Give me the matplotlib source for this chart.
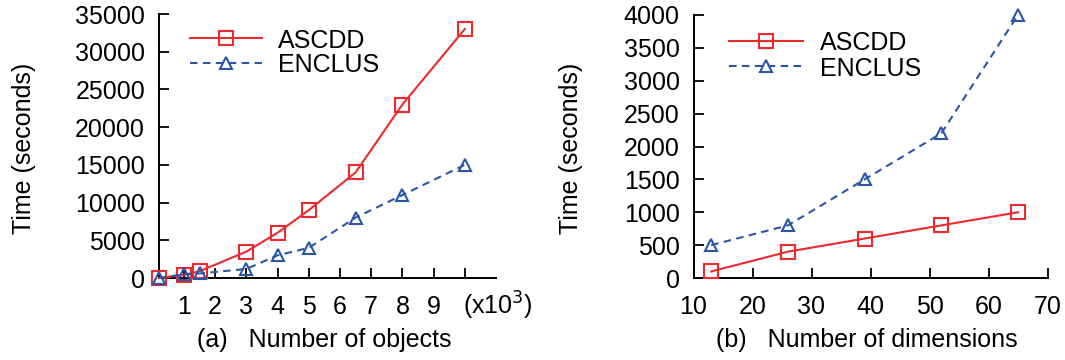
import matplotlib
matplotlib.use("Agg")
import matplotlib.pyplot as plt
from matplotlib.lines import Line2D

plt.rcParams['font.family'] = ['Liberation Sans', 'DejaVu Sans']

# (a) runtime vs. number of objects (x in thousands)
objects_k = [0.2, 1, 1.5, 3, 4, 5, 6.5, 8, 10]
ascdd_objects = [0, 400, 900, 3500, 6000, 9000, 14000, 23000, 33000]
enclus_objects = [0, 500, 600, 1200, 3000, 4000, 8000, 11000, 15000]
objects_ticks = [1, 2, 3, 4, 5, 6, 7, 8, 9, 10]
objects_ticklabels = ['1', '2', '3', '4', '5', '6', '7', '8', '9', '']

# (b) runtime vs. number of dimensions
dimensions = [13, 26, 39, 52, 65]
ascdd_dims = [100, 400, 600, 800, 1000]
enclus_dims = [500, 800, 1500, 2200, 4000]

series_names = ['ASCDD', 'ENCLUS']

RED = '#ec2a2e'
BLUE = '#2b56a8'
FS = 18
W, H = 1065, 360

fig = plt.figure(figsize=(W / 100, H / 100), dpi=100)


def fx(x):
    return x / W


def fy(y):
    return 1 - y / H


ax1 = fig.add_axes([fx(159), fy(278), 337 / W, 264 / H])
ax2 = fig.add_axes([fx(693.5), fy(278), 354 / W, 263 / H])

STYLES = [
    dict(color=RED, lw=1.5, marker='s', ms=9.5, mfc='none', mec=RED, mew=1.5),
    dict(color=BLUE, lw=1.5, ls=(0, (3.6, 2.6)), marker='^', ms=9,
         mfc='none', mec=BLUE, mew=1.5),
]


def style(ax):
    for side in ('top', 'right'):
        ax.spines[side].set_visible(False)
    for side in ('left', 'bottom'):
        ax.spines[side].set_linewidth(1.4)
    ax.tick_params(direction='in', length=7, width=1.3, labelsize=FS)
    ax.tick_params(axis='y', pad=10)
    ax.tick_params(axis='x', pad=12)


def draw(ax, x, a, e):
    ax.plot(x, a, clip_on=False, zorder=3, **STYLES[0])
    ax.plot(x, e, clip_on=False, zorder=4, **STYLES[1])


def legend(x0, x1, xt, y_rows):
    # key: a short line with the marker in its middle, then the name
    xm = (x0 + x1) / 2
    for name, st, yr in zip(series_names, STYLES, y_rows):
        fig.add_artist(Line2D([fx(x0), fx(xm), fx(x1)], [fy(yr)] * 3,
                              transform=fig.transFigure, markevery=[1], **st))
        fig.text(fx(xt), fy(yr), name, ha='left', va='center_baseline',
                 fontsize=FS)


draw(ax1, objects_k, ascdd_objects, enclus_objects)
style(ax1)
ax1.set_xlim(0.2, 11)
ax1.set_ylim(0, 35000)
ax1.set_xticks(objects_ticks)
ax1.set_xticklabels(objects_ticklabels)
ax1.set_yticks(range(0, 35001, 5000))
ax1.text(9.93, -0.105, '(x10$^3$)', transform=ax1.get_xaxis_transform(),
         ha='left', va='center', fontsize=FS)

draw(ax2, dimensions, ascdd_dims, enclus_dims)
style(ax2)
ax2.set_xlim(10, 70)
ax2.set_ylim(0, 4000)
ax2.set_xticks(range(10, 71, 10))
ax2.set_yticks(range(0, 4001, 500))

legend(190, 262, 278, (38, 63))
legend(729, 803, 820, (41, 66))

fig.text(fx(24), fy(148), 'Time (seconds)', rotation=90,
         ha='center', va='center', fontsize=FS)
fig.text(fx(571), fy(148), 'Time (seconds)', rotation=90,
         ha='center', va='center', fontsize=FS)
fig.text(fx(197), fy(340), '(a)   Number of objects',
         ha='left', va='center', fontsize=FS)
fig.text(fx(716), fy(340), '(b)   Number of dimensions',
         ha='left', va='center', fontsize=FS)

fig.savefig('out.png', dpi=100)
